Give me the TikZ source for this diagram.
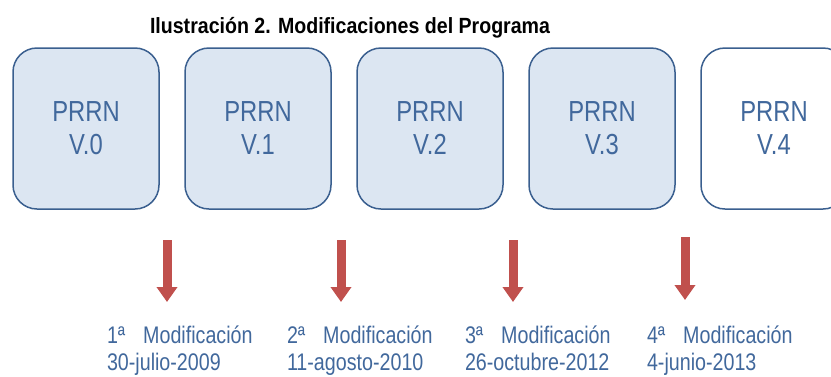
\documentclass[tikz,border=0pt]{standalone}
\usepackage{fontspec}
\setmainfont{Liberation Sans}[FakeStretch=0.82]
\newfontfamily\titlefont{Liberation Sans}[FakeStretch=0.89]
\usepackage{xcolor}
\usetikzlibrary{arrows.meta,positioning}
\definecolor{boxline}{HTML}{3A5F8F}
\definecolor{boxfill}{HTML}{DCE6F2}
\definecolor{boxtext}{HTML}{41689C}
\definecolor{arrowred}{HTML}{C0504D}
\tikzset{
  basenode/.style = {align=center, inner sep=0pt, outer sep=0pt, text centered},
  version_node/.style = {basenode, rectangle, rounded corners=24pt, draw=boxline, line width=1.5pt,
                         fill=boxfill, minimum width=146pt, minimum height=161pt, text=boxtext,
                         font=\fontsize{29}{33}\selectfont},
  new_node/.style = {version_node, fill=white},
  mod_node/.style = {basenode, align=left, anchor=base west, text=boxtext, font=\fontsize{24}{27}\selectfont},
  title_node/.style = {basenode, anchor=base west, font=\titlefont\bfseries\fontsize{22}{24}\selectfont},
  mod_arrow/.style = {arrowred, line width=9pt, -{Triangle[width=20pt,length=15pt]}},
}
\begin{document}
\begin{tikzpicture}[x=1pt,y=-1pt]
    \useasboundingbox (0,0) rectangle (831,376);
    \clip (0,0) rectangle (831,376);
    \node [title_node] (title) at (150,33) {Ilustración 2. Modificaciones del Programa};
    % versiones
    \node [version_node] (v0) at (86,128.5) {PRRN\\V.0};
    \node [version_node, right=26pt of v0] (v1) {PRRN\\V.1};
    \node [version_node, right=26pt of v1] (v2) {PRRN\\V.2};
    \node [version_node, right=26pt of v2] (v3) {PRRN\\V.3};
    \node [new_node, right=26pt of v3] (v4) {PRRN\\V.4};
    % modificaciones (base = segunda linea)
    \node [mod_node] (mod1) at (107,370) {1ª\hspace{18pt}Modificación\\30-julio-2009};
    \node [mod_node] (mod2) at (287,370) {2ª\hspace{18pt}Modificación\\11-agosto-2010};
    \node [mod_node] (mod3) at (465,370) {3ª\hspace{18pt}Modificación\\26-octubre-2012};
    \node [mod_node] (mod4) at (647,370) {4ª\hspace{18pt}Modificación\\4-junio-2013};
    \coordinate (a1top) at (167,240);
    \coordinate (a1tip) at (167,302);
    \coordinate (a2top) at (341,240);
    \coordinate (a2tip) at (341,302);
    \coordinate (a3top) at (513,240);
    \coordinate (a3tip) at (513,302);
    \coordinate (a4top) at (685,237);
    \coordinate (a4tip) at (685,300);
    \draw [mod_arrow] (a1top) -- (a1tip);
    \draw [mod_arrow] (a2top) -- (a2tip);
    \draw [mod_arrow] (a3top) -- (a3tip);
    \draw [mod_arrow] (a4top) -- (a4tip);
\end{tikzpicture}
\end{document}
